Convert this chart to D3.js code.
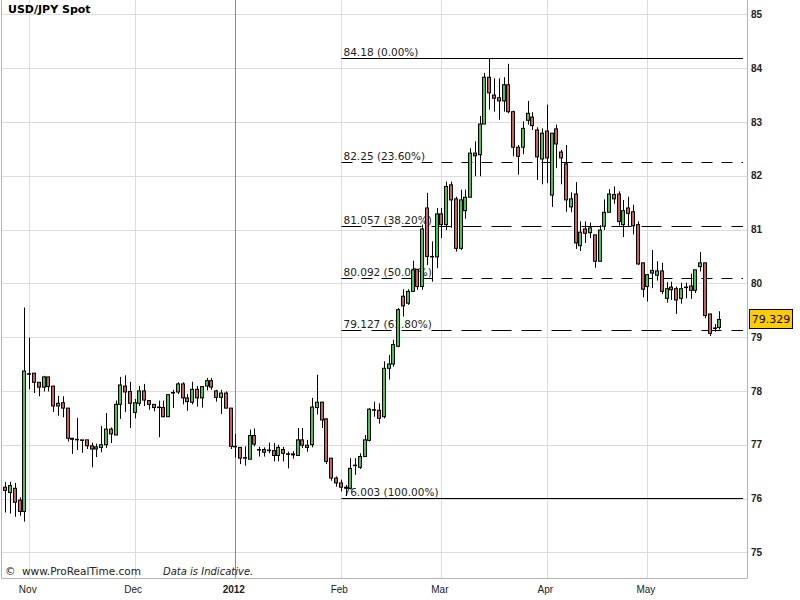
<!DOCTYPE html>
<html>
<head>
<meta charset="utf-8">
<script src="https://cdn.jsdelivr.net/npm/d3@7"></script>
<style>
  body { margin: 0; background: #fff; }
  svg { display: block; font-family: Verdana, "DejaVu Sans", sans-serif; }
</style>
</head>
<body>
<div id="chart"></div>
<script>
// trading days shown on the chart
var dates = [
  "2011-10-25","2011-10-26","2011-10-27","2011-10-28","2011-10-31",
  "2011-11-01","2011-11-02","2011-11-03","2011-11-04","2011-11-07","2011-11-08","2011-11-09","2011-11-10","2011-11-11",
  "2011-11-14","2011-11-15","2011-11-16","2011-11-17","2011-11-18","2011-11-21","2011-11-22","2011-11-23","2011-11-24",
  "2011-11-25","2011-11-28","2011-11-29","2011-11-30",
  "2011-12-01","2011-12-02","2011-12-05","2011-12-06","2011-12-07","2011-12-08","2011-12-09","2011-12-12","2011-12-13",
  "2011-12-14","2011-12-15","2011-12-16","2011-12-19","2011-12-20","2011-12-21","2011-12-22","2011-12-23","2011-12-27",
  "2011-12-28","2011-12-29","2011-12-30",
  "2012-01-02","2012-01-03","2012-01-04","2012-01-05","2012-01-06","2012-01-09","2012-01-10","2012-01-11","2012-01-12",
  "2012-01-13","2012-01-16","2012-01-17","2012-01-18","2012-01-19","2012-01-20","2012-01-23","2012-01-24","2012-01-25",
  "2012-01-26","2012-01-27","2012-01-30","2012-01-31",
  "2012-02-01","2012-02-02","2012-02-03","2012-02-06","2012-02-07","2012-02-08","2012-02-09","2012-02-10","2012-02-13",
  "2012-02-14","2012-02-15","2012-02-16","2012-02-17","2012-02-20","2012-02-21","2012-02-22","2012-02-23","2012-02-24",
  "2012-02-27","2012-02-28","2012-02-29",
  "2012-03-01","2012-03-02","2012-03-05","2012-03-06","2012-03-07","2012-03-08","2012-03-09","2012-03-12","2012-03-13",
  "2012-03-14","2012-03-15","2012-03-16","2012-03-19","2012-03-20","2012-03-21","2012-03-22","2012-03-23","2012-03-26",
  "2012-03-27","2012-03-28","2012-03-29","2012-03-30",
  "2012-04-02","2012-04-03","2012-04-04","2012-04-05","2012-04-06","2012-04-09","2012-04-10","2012-04-11","2012-04-12",
  "2012-04-13","2012-04-16","2012-04-17","2012-04-18","2012-04-19","2012-04-20","2012-04-23","2012-04-24","2012-04-25",
  "2012-04-26","2012-04-27","2012-04-30",
  "2012-05-01","2012-05-02","2012-05-03","2012-05-04","2012-05-07","2012-05-08","2012-05-09","2012-05-10","2012-05-11",
  "2012-05-14","2012-05-15","2012-05-16","2012-05-17","2012-05-18","2012-05-21","2012-05-22"
];

// [open, high, low, close] per day
var ohlc = [
  [76.21,76.31,75.74,76.15],[76.11,76.31,75.72,76.24],[76.19,76.29,75.66,75.93],[75.97,76.02,75.68,75.76],[75.76,79.55,75.57,78.37],
  [78.32,78.99,78.03,78.31],[78.33,78.33,77.96,78.16],[78.16,78.16,77.90,78.07],[78.07,78.28,77.99,78.26],[78.26,78.26,77.99,78.08],
  [78.09,78.09,77.61,77.72],[77.72,77.91,77.54,77.77],[77.78,77.90,77.51,77.68],[77.68,77.68,77.06,77.12],[77.12,77.12,76.83,77.10],
  [77.10,77.50,76.90,77.09],[77.09,77.09,76.85,77.08],[77.09,77.09,76.92,76.98],[76.98,77.04,76.58,76.92],[76.92,77.02,76.77,76.96],
  [76.95,77.35,76.86,77.00],[77.00,77.59,76.94,77.29],[77.29,77.32,77.03,77.20],[77.18,77.82,77.18,77.75],[77.75,78.26,77.48,78.11],
  [78.09,78.29,77.61,77.98],[77.99,78.17,77.31,77.77],
  [77.60,77.85,77.49,77.78],[77.77,78.09,77.72,78.00],[78.00,78.13,77.72,77.83],[77.82,77.83,77.65,77.75],[77.75,77.75,77.62,77.69],
  [77.70,77.82,77.14,77.69],[77.69,77.82,77.51,77.52],[77.52,77.93,77.52,77.93],[77.96,78.02,77.68,77.97],[77.98,78.16,77.94,78.13],
  [78.13,78.16,77.75,77.87],[77.87,77.94,77.63,77.80],[77.79,78.17,77.75,78.03],[78.03,78.09,77.71,77.87],[77.87,78.09,77.69,78.08],
  [78.09,78.24,78.01,78.19],[78.19,78.24,78.02,78.07],[78.00,78.02,77.80,77.88],[77.88,78.02,77.57,77.96],[77.96,77.99,77.68,77.68],
  [77.68,77.68,76.92,76.97],
  [76.97,77.20,76.76,76.96],[76.95,76.95,76.64,76.75],[76.76,76.97,76.61,76.75],[76.73,77.28,76.73,77.17],[77.17,77.30,76.97,77.01],
  [76.91,76.96,76.78,76.90],[76.91,76.95,76.78,76.86],[76.90,77.04,76.84,76.89],[76.89,77.03,76.69,76.80],[76.80,77.00,76.69,76.95],
  [76.91,76.96,76.69,76.84],[76.83,76.87,76.56,76.82],[76.83,76.88,76.74,76.81],[76.80,77.31,76.80,77.09],[77.09,77.31,76.94,76.99],
  [76.95,77.09,76.87,76.99],[77.00,77.87,76.95,77.70],[77.69,78.30,77.56,77.79],[77.79,77.80,77.31,77.46],[77.48,77.49,76.64,76.69],
  [76.75,76.75,76.33,76.38],[76.38,76.41,76.22,76.29],
  [76.29,76.35,76.13,76.21],[76.21,76.25,76.05,76.20],[76.19,76.75,76.17,76.56],[76.61,76.75,76.44,76.62],[76.58,76.84,76.55,76.78],
  [76.78,77.18,76.78,77.09],[77.08,77.68,77.06,77.66],[77.65,77.80,77.52,77.65],[77.64,77.77,77.39,77.49],[77.52,78.55,77.49,78.42],
  [78.42,78.67,78.21,78.50],[78.50,78.95,78.45,78.86],[78.83,79.54,78.81,79.51],[79.76,79.89,79.38,79.58],[79.63,79.89,79.60,79.85],
  [79.85,80.42,79.85,80.25],[80.26,80.26,79.88,79.94],[79.94,81.09,79.88,81.01],[81.40,81.68,80.34,80.50],[80.50,80.78,80.03,80.49],
  [80.49,81.40,80.28,81.29],
  [81.29,81.40,80.84,81.09],[81.09,81.89,80.99,81.80],[81.83,81.89,81.03,81.55],[81.57,81.61,80.59,80.65],[80.65,81.74,80.62,81.55],
  [81.35,81.74,81.20,81.60],[81.60,82.51,81.60,82.42],[82.42,82.64,81.99,82.37],[82.39,83.11,81.99,82.96],[82.96,83.91,82.96,83.83],
  [83.83,84.18,83.23,83.54],[83.50,83.81,83.19,83.44],[83.45,83.81,83.04,83.39],[83.39,83.83,83.19,83.69],[83.69,84.08,83.16,83.19],
  [83.19,83.21,82.36,82.53],[82.53,82.57,82.02,82.36],[82.53,83.01,82.40,82.88],[83.03,83.39,82.95,83.16],[83.09,83.18,82.85,82.93],
  [82.85,82.90,81.92,82.35],[82.31,82.88,81.84,82.79],
  [82.83,83.32,81.86,82.33],[81.64,82.79,81.42,82.79],[82.87,82.95,82.14,82.59],[82.44,82.48,81.84,82.33],[82.22,82.57,81.33,81.55],
  [81.42,81.69,81.32,81.57],[81.66,81.88,80.64,80.75],[80.70,81.15,80.60,80.95],[81.01,81.15,80.75,80.93],[80.94,81.13,80.84,81.03],
  [80.90,80.90,80.29,80.41],[80.41,81.08,80.41,80.99],[81.06,81.56,80.99,81.32],[81.32,81.75,81.32,81.66],[81.65,81.80,81.48,81.57],
  [81.66,81.71,81.07,81.15],[81.09,81.55,80.86,81.35],[81.40,81.61,81.06,81.30],[81.33,81.46,80.91,81.07],[81.09,81.15,80.34,80.36],
  [80.38,80.38,79.74,79.89],
  [79.94,80.16,79.66,80.16],[80.24,80.62,79.91,80.19],[80.15,80.41,80.05,80.23],[80.23,80.38,79.80,79.85],[79.72,80.02,79.64,79.90],
  [79.93,80.03,79.69,79.88],[79.90,79.94,79.43,79.69],[79.72,80.01,79.62,79.90],[79.93,80.01,79.72,79.92],[79.95,80.18,79.71,79.87],
  [79.87,80.25,79.82,80.25],[80.31,80.58,80.22,80.38],[80.38,80.38,79.35,79.40],[79.43,79.43,79.02,79.07],[79.17,79.24,79.10,79.16],
  [79.18,79.48,79.14,79.329]
];

var priceTicks = [75, 76, 77, 78, 79, 80, 81, 82, 83, 84, 85];
var monthDates = ["2011-11-01","2011-12-01","2012-01-02","2012-02-01","2012-03-01","2012-04-02","2012-05-01"];
var monthLabels = ["Nov","Dec","2012","Feb","Mar","Apr","May"];

// fibonacci retracement from the Feb low to the Mar high
var fibLevels = [84.18, 82.25, 81.057, 80.092, 79.127, 76.003];
var fibLabels = ["84.18 (0.00%)","82.25 (23.60%)","81.057 (38.20%)","80.092 (50.00%)","79.127 (61.80%)","76.003 (100.00%)"];
var fibStart = "2012-02-01";
var lastPrice = 79.329;

var width = 800, height = 600;
var plot = {left: 1, right: 747, top: 0, bottom: 578};

var svg = d3.select("#chart").append("svg")
    .attr("width", width)
    .attr("height", height);

var x = d3.scalePoint()
    .domain(dates)
    .range([5.3, 719.3]);

var y = d3.scaleLinear()
    .domain([75, 85])
    .range([552.3, 14.3]);

var px = v => Math.round(v) + 0.5;

// horizontal grid
svg.append("g").selectAll("line")
    .data(priceTicks)
    .enter().append("line")
    .attr("x1", plot.left).attr("x2", plot.right)
    .attr("y1", d => px(y(d))).attr("y2", d => px(y(d)))
    .attr("stroke", "#dcdcdc");

// vertical grid at month starts, year line darker
svg.append("g").selectAll("line")
    .data(monthDates)
    .enter().append("line")
    .attr("x1", d => px(x(d))).attr("x2", d => px(x(d)))
    .attr("y1", plot.top).attr("y2", plot.bottom)
    .attr("stroke", (d, i) => monthLabels[i] == "2012" ? "#8a8a8a" : "#dcdcdc");

// plot frame
svg.append("path")
    .attr("d", `M${plot.left + 0.5},${plot.top}V${plot.bottom + 0.5}H${plot.right + 0.5}V${plot.top}`)
    .attr("fill", "none")
    .attr("stroke", "#b4b4b4");

svg.append("text")
    .attr("x", 8).attr("y", 13)
    .attr("font-size", 11).attr("font-weight", "bold")
    .text("USD/JPY Spot");

// fibonacci lines + labels
var fibX1 = px(x(fibStart)), fibX2 = 743;
var fib = svg.append("g");
fib.selectAll("line")
    .data(fibLevels)
    .enter().append("line")
    .attr("x1", fibX1).attr("x2", fibX2)
    .attr("y1", d => px(y(d))).attr("y2", d => px(y(d)))
    .attr("stroke", "#000")
    .attr("stroke-dasharray", (d, i) => (i == 0 || i == 5) ? null : (i % 2 == 1 ? "11,9" : "20,10"));
fib.selectAll("text")
    .data(fibLevels)
    .enter().append("text")
    .attr("x", fibX1 + 2)
    .attr("y", d => Math.round(y(d)) - 2)
    .attr("font-size", 10.5)
    .attr("fill", "#222")
    .text((d, i) => fibLabels[i]);

// candles
var candles = svg.append("g").selectAll("g")
    .data(dates)
    .enter().append("g");

candles.append("line")
    .attr("x1", d => px(x(d))).attr("x2", d => px(x(d)))
    .attr("y1", (d, i) => y(ohlc[i][1]))
    .attr("y2", (d, i) => y(ohlc[i][2]))
    .attr("stroke", "#000");

candles.append("rect")
    .attr("x", d => Math.round(x(d)) - 1.5)
    .attr("width", 3)
    .attr("y", (d, i) => y(Math.max(ohlc[i][0], ohlc[i][3])))
    .attr("height", (d, i) => Math.max(0.5, Math.abs(y(ohlc[i][0]) - y(ohlc[i][3]))))
    .attr("fill", (d, i) => ohlc[i][3] >= ohlc[i][0] ? "#3fcc3f" : "#d65c5c")
    .attr("stroke", "#000")
    .attr("stroke-width", 1);

// price axis on the right
var yAxis = svg.append("g")
    .attr("transform", `translate(${plot.right},0)`)
    .call(d3.axisRight(y).tickValues(priceTicks).tickSize(0).tickPadding(4));
yAxis.select(".domain").remove();
yAxis.selectAll("text")
    .attr("font-family", null)
    .attr("font-size", 10)
    .attr("font-weight", "bold")
    .attr("fill", "#222");

// month axis
var xAxis = svg.append("g")
    .attr("transform", `translate(0,${plot.bottom})`)
    .call(d3.axisBottom(x).tickValues(monthDates).tickFormat((d, i) => monthLabels[i]).tickSize(0).tickPadding(8));
xAxis.select(".domain").remove();
xAxis.selectAll("text")
    .attr("font-family", null)
    .attr("font-size", 10)
    .attr("fill", "#222")
    .attr("dx", -2)
    .attr("font-weight", d => d == "2012-01-02" ? "bold" : null);

// last price tag
var tagY = y(lastPrice);
svg.append("rect")
    .attr("x", 749.5).attr("y", Math.round(tagY) - 9.5)
    .attr("width", 43).attr("height", 19)
    .attr("fill", "#ffcc00").attr("stroke", "#000");
svg.append("text")
    .attr("x", 771).attr("y", tagY + 4)
    .attr("text-anchor", "middle")
    .attr("font-size", 11)
    .text(lastPrice.toFixed(3));

// footer
var foot = svg.append("text")
    .attr("x", 5).attr("y", 575)
    .attr("font-size", 10.5)
    .attr("fill", "#222");
foot.append("tspan").text("©");
foot.append("tspan").attr("x", 22).text("www.ProRealTime.com");
foot.append("tspan").attr("x", 163).attr("font-style", "italic").attr("font-size", 10).text("Data is Indicative.");
</script>
</body>
</html>
